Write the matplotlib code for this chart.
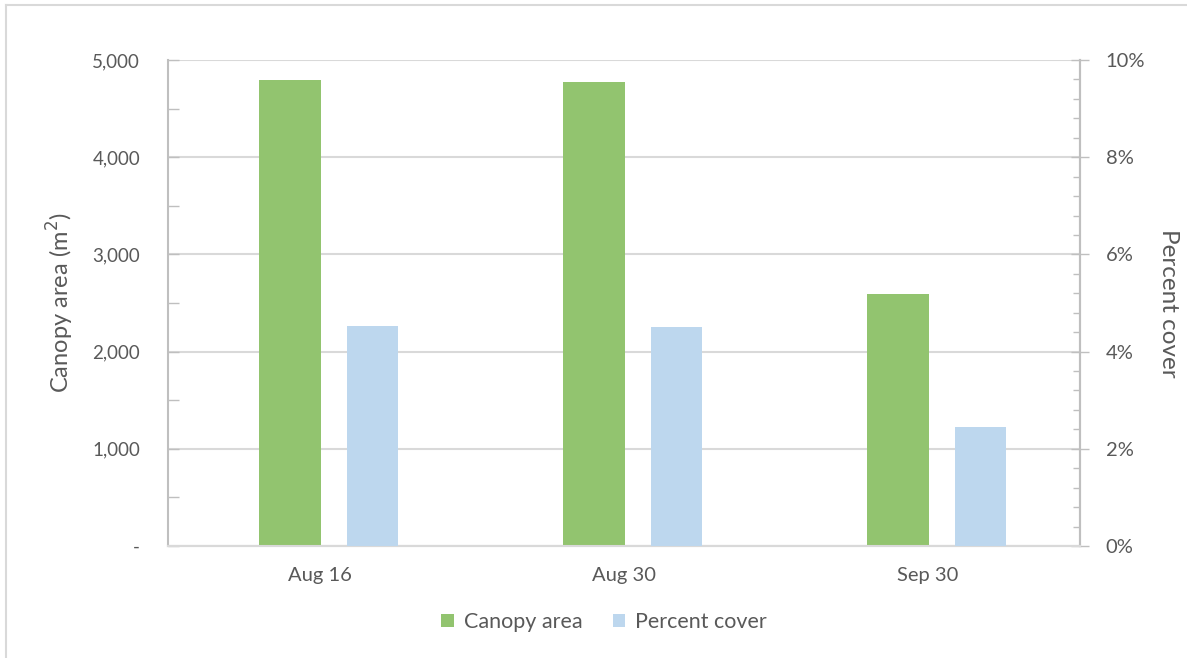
import matplotlib
matplotlib.use("Agg")
import matplotlib.pyplot as plt
from matplotlib.ticker import FuncFormatter, MultipleLocator
from matplotlib.patches import Patch
from matplotlib.lines import Line2D
import numpy as np

plt.rcParams['font.family'] = ['Lato', 'DejaVu Sans']

# Data
dates = ["Aug 16", "Aug 30", "Sep 30"]
canopy_area = [4795, 4775, 2592]          # m^2
percent_cover = [4.53, 4.51, 2.45]        # %

GREEN = "#92C46F"
BLUE = "#BDD7EE"
TEXT = "#595959"
AXIS = "#BFBFBF"
GRID = "#D9D9D9"

W, H = 1187, 658
fig = plt.figure(figsize=(W / 100, H / 100), dpi=100)

# light frame around the chart area
fig.add_artist(Line2D([6 / W, 6 / W], [0, 1 - 5 / H], transform=fig.transFigure, color=GRID, lw=1.5))
fig.add_artist(Line2D([6 / W, 1], [1 - 5 / H, 1 - 5 / H], transform=fig.transFigure, color=GRID, lw=1.5))

ax = fig.add_axes([168 / W, 1 - 546 / H, (1080 - 168) / W, (546 - 60) / H])
ax2 = ax.twinx()

x = np.arange(len(dates))
slot = 304.0  # pixels per category
ax.bar(x - 61 / slot, canopy_area, width=62 / slot, align="edge", color=GREEN, zorder=3)
ax2.bar(x + 27 / slot, percent_cover, width=51 / slot, align="edge", color=BLUE, zorder=3)

ax.set_xlim(-0.5, len(dates) - 0.5)
ax.set_ylim(0, 5000)
ax2.set_ylim(0, 10)

# left axis
ax.yaxis.set_major_locator(MultipleLocator(1000))
ax.yaxis.set_minor_locator(MultipleLocator(500))
ax.yaxis.set_major_formatter(FuncFormatter(lambda v, p: "-" if v == 0 else f"{v:,.0f}"))
ax.tick_params(axis="y", which="both", direction="in", length=8, color=AXIS, width=1,
               labelsize=13.5, labelcolor=TEXT, pad=20)
ax.grid(axis="y", which="major", color=GRID, lw=1.5, zorder=0)
ax.set_axisbelow(True)

# right axis
ax2.yaxis.set_major_locator(MultipleLocator(2))
ax2.yaxis.set_minor_locator(MultipleLocator(0.4))
ax2.yaxis.set_major_formatter(FuncFormatter(lambda v, p: f"{v:.0f}%"))
ax2.tick_params(axis="y", which="major", direction="inout", length=13, color=AXIS, width=1,
                labelsize=14.5, labelcolor=TEXT, pad=12)
ax2.tick_params(axis="y", which="minor", direction="in", length=5, color=AXIS, width=1)

# x axis
ax.set_xticks(x)
ax.set_xticklabels(dates)
ax.tick_params(axis="x", length=0, labelsize=14.5, labelcolor=TEXT, pad=15)

for a in (ax, ax2):
    a.spines["top"].set_visible(False)
    a.spines["left"].set_color(AXIS)
    a.spines["right"].set_color(AXIS)
    a.spines["bottom"].set_color(GRID)
    a.spines["left"].set_linewidth(1.5)
    a.spines["right"].set_linewidth(1.5)
    a.spines["bottom"].set_linewidth(1.5)
ax2.spines["left"].set_visible(False)

ax.set_ylabel("Canopy area (m$^2$)", fontsize=17, color=TEXT, labelpad=12)
ax2.set_ylabel("Percent cover", fontsize=17.5, color=TEXT, rotation=270, labelpad=24)

handles = [Patch(facecolor=GREEN, label="Canopy area"), Patch(facecolor=BLUE, label="Percent cover")]
leg = fig.legend(handles=handles, loc="center", bbox_to_anchor=(604 / W, 1 - 622 / H), ncol=2,
                 frameon=False, fontsize=15.5, handlelength=0.6, handleheight=0.6,
                 handletextpad=0.45, columnspacing=1.4)
for t in leg.get_texts():
    t.set_color(TEXT)

fig.savefig("out.png", dpi=100)
